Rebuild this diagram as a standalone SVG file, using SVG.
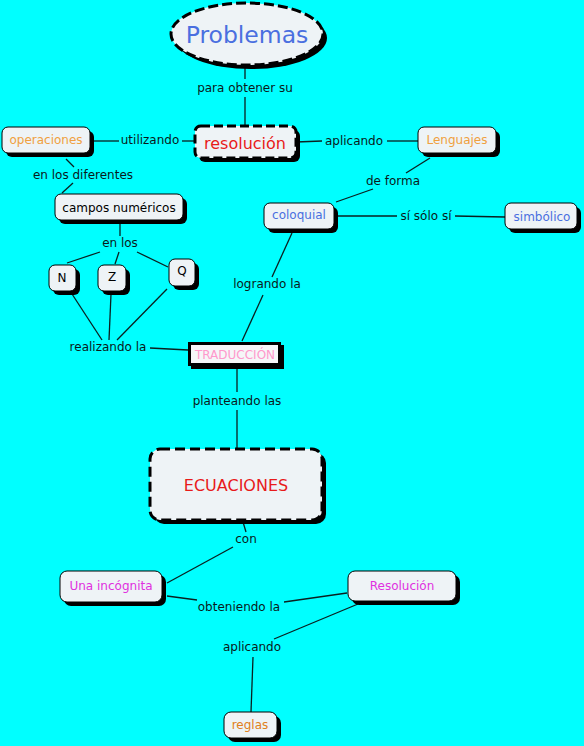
<svg xmlns="http://www.w3.org/2000/svg" width="584" height="746" viewBox="0 0 584 746">
<style>
.node{fill:#EEF3F6;stroke:#000;stroke-width:1}
.shadow{fill:#000}
.dash{fill:#EEF3F6;stroke:#000;stroke-width:3;stroke-dasharray:9 4}
.t{font-family:"DejaVu Sans",Verdana,sans-serif;font-size:12px;text-anchor:middle;dominant-baseline:central}
.lbl{fill:#0a1a1a}
.c line{stroke:#0a2020;stroke-width:1.3}
</style>
<rect width="584" height="746" fill="#00FFFF"/>
<g class="c" id="connectors">
<line x1="245" y1="66" x2="245" y2="79"/>
<line x1="245" y1="97" x2="245" y2="127"/>
<line x1="92" y1="141" x2="119" y2="141"/>
<line x1="182" y1="141" x2="195" y2="141"/>
<line x1="66" y1="159" x2="74" y2="167"/>
<line x1="73" y1="183" x2="62" y2="193"/>
<line x1="120" y1="224" x2="120" y2="236"/>
<line x1="100" y1="252" x2="67" y2="263"/>
<line x1="119" y1="252" x2="115" y2="264"/>
<line x1="137" y1="252" x2="168" y2="267"/>
<line x1="72" y1="294" x2="102" y2="340"/>
<line x1="111" y1="294" x2="109" y2="340"/>
<line x1="167" y1="289" x2="117" y2="340"/>
<line x1="150" y1="348" x2="188" y2="350"/>
<line x1="296" y1="142" x2="322" y2="141"/>
<line x1="387" y1="141" x2="418" y2="141"/>
<line x1="430" y1="158" x2="406" y2="173"/>
<line x1="373" y1="189" x2="336" y2="202"/>
<line x1="335" y1="216" x2="397" y2="216"/>
<line x1="455" y1="216" x2="505" y2="217"/>
<line x1="292" y1="233" x2="272" y2="277"/>
<line x1="263" y1="295" x2="242" y2="341"/>
<line x1="237" y1="367" x2="237" y2="392"/>
<line x1="237" y1="410" x2="237" y2="449"/>
<line x1="243" y1="522" x2="246" y2="532"/>
<line x1="233" y1="547" x2="167" y2="583"/>
<line x1="167" y1="596" x2="197" y2="600"/>
<line x1="284" y1="602" x2="347" y2="593"/>
<line x1="358" y1="604" x2="274" y2="639"/>
<line x1="253" y1="657" x2="251" y2="712"/>
<text class="t lbl" x="245" y="88">para obtener su</text>
<text class="t lbl" x="150" y="140">utilizando</text>
<text class="t lbl" x="83" y="175">en los diferentes</text>
<text class="t lbl" x="120" y="243">en los</text>
<text class="t lbl" x="108" y="347">realizando la</text>
<text class="t lbl" x="354" y="141">aplicando</text>
<text class="t lbl" x="393" y="181">de forma</text>
<text class="t lbl" x="426" y="216">sí sólo sí</text>
<text class="t lbl" x="267" y="284">logrando la</text>
<text class="t lbl" x="237" y="401">planteando las</text>
<text class="t lbl" x="246" y="539">con</text>
<text class="t lbl" x="239" y="607">obteniendo la</text>
<text class="t lbl" x="252" y="647">aplicando</text>
</g>
<g id="problemas">
<ellipse class="shadow" cx="251" cy="38" rx="76" ry="31"/>
<ellipse class="dash" cx="247" cy="34" rx="76" ry="31" style="stroke-dasharray:10 4"/>
<text class="t" x="247" y="35" style="font-size:23.5px;fill:#4A6FE0">Problemas</text>
</g>
<g id="resolucion">
<rect class="shadow" x="199" y="130" width="101" height="32" rx="6"/>
<rect class="dash" x="195" y="126" width="101" height="32" rx="6"/>
<text class="t" x="245" y="143" style="font-size:16px;fill:#E81A1A">resolución</text>
</g>
<g id="operaciones">
<rect class="shadow" x="6" y="131" width="88" height="26" rx="6"/>
<rect class="node" x="2" y="127" width="88" height="26" rx="6"/>
<text class="t" x="46" y="140" style="fill:#F0A040">operaciones</text>
</g>
<g id="lenguajes">
<rect class="shadow" x="422" y="131" width="78" height="26" rx="6"/>
<rect class="node" x="418" y="127" width="78" height="26" rx="6"/>
<text class="t" x="457" y="140" style="fill:#F0A040">Lenguajes</text>
</g>
<g id="campos">
<rect class="shadow" x="59" y="198" width="128" height="26" rx="6"/>
<rect class="node" x="55" y="194" width="128" height="26" rx="6"/>
<text class="t" x="119" y="208" style="fill:#000">campos numéricos</text>
</g>
<g id="coloquial">
<rect class="shadow" x="268" y="207" width="70" height="26" rx="6"/>
<rect class="node" x="264" y="203" width="70" height="26" rx="6"/>
<text class="t" x="299" y="215" style="fill:#4A6FE0">coloquial</text>
</g>
<g id="simbolico">
<rect class="shadow" x="509" y="207" width="72" height="26" rx="6"/>
<rect class="node" x="505" y="203" width="72" height="26" rx="6"/>
<text class="t" x="542" y="217" style="fill:#4A6FE0">simbólico</text>
</g>
<g id="n">
<rect class="shadow" x="53" y="269" width="27" height="26" rx="6"/>
<rect class="node" x="49" y="265" width="27" height="26" rx="6"/>
<text class="t" x="62" y="278" style="fill:#000">N</text>
</g>
<g id="z">
<rect class="shadow" x="102" y="269" width="28" height="26" rx="6"/>
<rect class="node" x="98" y="265" width="28" height="26" rx="6"/>
<text class="t" x="112" y="277" style="fill:#000">Z</text>
</g>
<g id="q">
<rect class="shadow" x="173" y="263" width="26" height="27" rx="6"/>
<rect class="node" x="169" y="259" width="26" height="27" rx="6"/>
<text class="t" x="182" y="271" style="fill:#000">Q</text>
</g>
<g id="traduccion">
<rect class="shadow" x="191" y="345" width="93" height="24"/>
<rect x="189.5" y="343.5" width="90" height="21" fill="#F6F6F8" stroke="#000" stroke-width="3"/>
<text class="t" x="235" y="355" style="font-size:12px;fill:#FF99CC">TRADUCCIÓN</text>
</g>
<g id="ecuaciones">
<rect class="shadow" x="154" y="453" width="172" height="71" rx="10"/>
<rect class="dash" x="150" y="449" width="172" height="71" rx="10" style="stroke-dasharray:10 5"/>
<text class="t" x="236" y="485" style="font-size:16px;fill:#E81A1A">ECUACIONES</text>
</g>
<g id="incognita">
<rect class="shadow" x="64" y="575" width="102" height="31" rx="7"/>
<rect class="node" x="60" y="571" width="102" height="31" rx="7"/>
<text class="t" x="111" y="586" style="fill:#E030E0">Una incógnita</text>
</g>
<g id="resolucion2">
<rect class="shadow" x="352" y="575" width="108" height="30" rx="7"/>
<rect class="node" x="348" y="571" width="108" height="30" rx="7"/>
<text class="t" x="402" y="586" style="fill:#E030E0">Resolución</text>
</g>
<g id="reglas">
<rect class="shadow" x="228" y="716" width="53" height="26" rx="7"/>
<rect class="node" x="224" y="712" width="53" height="26" rx="7"/>
<text class="t" x="250" y="725" style="fill:#E08020">reglas</text>
</g>
</svg>
